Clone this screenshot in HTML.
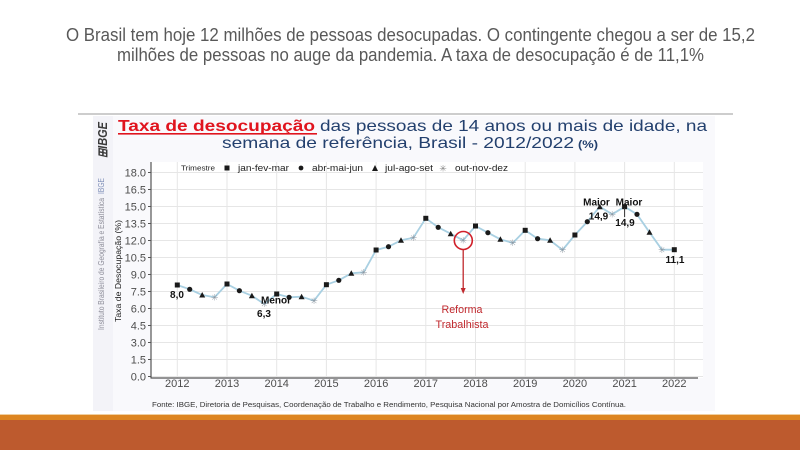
<!DOCTYPE html>
<html>
<head>
<meta charset="utf-8">
<style>
  html,body{margin:0;padding:0;background:#fff;}
  svg{display:block;}
  text{font-family:"Liberation Sans",sans-serif;}
</style>
</head>
<body>
<svg width="800" height="450" viewBox="0 0 800 450" xmlns="http://www.w3.org/2000/svg">
  <rect x="0" y="0" width="800" height="450" fill="#ffffff"/>

  <!-- Slide title -->
  <text x="66" y="41" font-size="18" fill="#595959" textLength="689" lengthAdjust="spacingAndGlyphs">O Brasil tem hoje 12 milhões de pessoas desocupadas. O contingente chegou a ser de 15,2</text>
  <text x="117" y="61" font-size="18" fill="#595959" textLength="587" lengthAdjust="spacingAndGlyphs">milhões de pessoas no auge da pandemia. A taxa de desocupação é de 11,1%</text>

  <!-- top gray line -->
  <rect x="78" y="113" width="655" height="2" fill="#cdcdcd"/>

  <!-- chart image background -->
  <rect x="93" y="116" width="622" height="295" fill="#f9f9fc"/>
  <rect x="93" y="116" width="20" height="295" fill="#f3f3f8"/>

  <!-- IBGE logo -->
  <g transform="translate(107,158) rotate(-90)">
    <text x="0" y="0" font-size="13" font-weight="bold" font-style="italic" fill="#3a3a3a" textLength="36" lengthAdjust="spacingAndGlyphs">⊞IBGE</text>
  </g>

  <!-- sidebar vertical text -->
  <g transform="translate(104,330) rotate(-90)">
    <text x="0" y="0" font-size="8" fill="#8c8c98" textLength="132" lengthAdjust="spacingAndGlyphs">Instituto Brasileiro de Geografia e Estatística</text>
    <text x="136" y="0" font-size="8" fill="#7f8fb8" textLength="16" lengthAdjust="spacingAndGlyphs">IBGE</text>
  </g>

  <!-- Chart title -->
  <text x="118" y="131" font-size="16" font-weight="bold" fill="#e0141e" textLength="197" lengthAdjust="spacingAndGlyphs">Taxa de desocupação</text>
  <rect x="118" y="133" width="199" height="1.6" fill="#e0141e"/>
  <text x="320" y="131" font-size="16" fill="#23406e" textLength="387" lengthAdjust="spacingAndGlyphs">das pessoas de 14 anos ou mais de idade, na</text>
  <text x="222" y="148" font-size="16" fill="#23406e" textLength="352" lengthAdjust="spacingAndGlyphs">semana de referência, Brasil - 2012/2022</text>
  <text x="578" y="148" font-size="11" font-weight="bold" fill="#23406e" textLength="20" lengthAdjust="spacingAndGlyphs">(%)</text>

  <!-- plot panel -->
  <rect x="151" y="162" width="552" height="216" fill="#ffffff"/>

  <!-- horizontal gridlines -->
  <g stroke="#e6e6e6" stroke-width="1">
    <line x1="151" y1="376.5" x2="703" y2="376.5"/>
    <line x1="151" y1="359.5" x2="703" y2="359.5"/>
    <line x1="151" y1="342.5" x2="703" y2="342.5"/>
    <line x1="151" y1="325.5" x2="703" y2="325.5"/>
    <line x1="151" y1="308.5" x2="703" y2="308.5"/>
    <line x1="151" y1="291.5" x2="703" y2="291.5"/>
    <line x1="151" y1="274.5" x2="703" y2="274.5"/>
    <line x1="151" y1="257.5" x2="703" y2="257.5"/>
    <line x1="151" y1="240.5" x2="703" y2="240.5"/>
    <line x1="151" y1="223.5" x2="703" y2="223.5"/>
    <line x1="151" y1="206.5" x2="703" y2="206.5"/>
    <line x1="151" y1="189.5" x2="703" y2="189.5"/>
    <line x1="151" y1="172.5" x2="703" y2="172.5"/>
  </g>
  <!-- vertical gridlines -->
  <g stroke="#e6e6e6" stroke-width="1">
    <line x1="177.3" y1="162" x2="177.3" y2="378"/>
    <line x1="227" y1="162" x2="227" y2="378"/>
    <line x1="276.7" y1="162" x2="276.7" y2="378"/>
    <line x1="326.4" y1="162" x2="326.4" y2="378"/>
    <line x1="376.1" y1="162" x2="376.1" y2="378"/>
    <line x1="425.8" y1="162" x2="425.8" y2="378"/>
    <line x1="475.5" y1="162" x2="475.5" y2="378"/>
    <line x1="525.2" y1="162" x2="525.2" y2="378"/>
    <line x1="574.9" y1="162" x2="574.9" y2="378"/>
    <line x1="624.6" y1="162" x2="624.6" y2="378"/>
    <line x1="674.3" y1="162" x2="674.3" y2="378"/>
  </g>

  <!-- axes -->
  <line x1="151" y1="162" x2="151" y2="378.5" stroke="#555" stroke-width="1.2"/>
  <line x1="151" y1="378" x2="698" y2="378" stroke="#555" stroke-width="1.2"/>
  <g stroke="#555" stroke-width="1">
    <line x1="148" y1="376.5" x2="151" y2="376.5"/>
    <line x1="148" y1="359.5" x2="151" y2="359.5"/>
    <line x1="148" y1="342.5" x2="151" y2="342.5"/>
    <line x1="148" y1="325.5" x2="151" y2="325.5"/>
    <line x1="148" y1="308.5" x2="151" y2="308.5"/>
    <line x1="148" y1="291.5" x2="151" y2="291.5"/>
    <line x1="148" y1="274.5" x2="151" y2="274.5"/>
    <line x1="148" y1="257.5" x2="151" y2="257.5"/>
    <line x1="148" y1="240.5" x2="151" y2="240.5"/>
    <line x1="148" y1="223.5" x2="151" y2="223.5"/>
    <line x1="148" y1="206.5" x2="151" y2="206.5"/>
    <line x1="148" y1="189.5" x2="151" y2="189.5"/>
    <line x1="148" y1="172.5" x2="151" y2="172.5"/>
  </g>

  <!-- y tick labels -->
  <g font-size="11" fill="#4d4d4d" text-anchor="end">
    <text x="146" y="380.5">0.0</text>
    <text x="146" y="363.5">1.5</text>
    <text x="146" y="346.5">3.0</text>
    <text x="146" y="329.5">4.5</text>
    <text x="146" y="312.5">6.0</text>
    <text x="146" y="295.5">7.5</text>
    <text x="146" y="278.5">9.0</text>
    <text x="146" y="261.5">10.5</text>
    <text x="146" y="244.5">12.0</text>
    <text x="146" y="227.5">13.5</text>
    <text x="146" y="210.5">15.0</text>
    <text x="146" y="193.5">16.5</text>
    <text x="146" y="176.5">18.0</text>
  </g>

  <!-- x tick labels -->
  <g font-size="11" fill="#4d4d4d" text-anchor="middle">
    <text x="177.3" y="387">2012</text>
    <text x="227" y="387">2013</text>
    <text x="276.7" y="387">2014</text>
    <text x="326.4" y="387">2015</text>
    <text x="376.1" y="387">2016</text>
    <text x="425.8" y="387">2017</text>
    <text x="475.5" y="387">2018</text>
    <text x="525.2" y="387">2019</text>
    <text x="574.9" y="387">2020</text>
    <text x="624.6" y="387">2021</text>
    <text x="674.3" y="387">2022</text>
  </g>

  <!-- y axis title -->
  <g transform="translate(121,322) rotate(-90)">
    <text x="0" y="0" font-size="8.5" fill="#222" textLength="102" lengthAdjust="spacingAndGlyphs">Taxa de Desocupação (%)</text>
  </g>

  <!-- legend -->
  <text x="181" y="170.5" font-size="7" fill="#222" textLength="34" lengthAdjust="spacingAndGlyphs">Trimestre</text>
  <rect x="224.5" y="165.5" width="5" height="5" fill="#1a1a1a"/>
  <text x="238" y="171" font-size="9.5" fill="#222" textLength="51" lengthAdjust="spacingAndGlyphs">jan-fev-mar</text>
  <circle cx="301" cy="168" r="2.4" fill="#1a1a1a"/>
  <text x="312" y="171" font-size="9.5" fill="#222" textLength="51" lengthAdjust="spacingAndGlyphs">abr-mai-jun</text>
  <polygon points="375,165 378,171 372,171" fill="#1a1a1a"/>
  <text x="385" y="171" font-size="9.5" fill="#222" textLength="48" lengthAdjust="spacingAndGlyphs">jul-ago-set</text>
  <text x="443" y="171.5" font-size="9" fill="#888" text-anchor="middle">✳</text>
  <text x="455" y="171" font-size="9.5" fill="#222" textLength="53" lengthAdjust="spacingAndGlyphs">out-nov-dez</text>

  <!-- data line -->
  <polyline fill="none" stroke="#a9d0e2" stroke-width="1.8" stroke-linejoin="round"
    points="177.3,285 189.7,289.3 202.2,295 214.6,297.3 227,284 239.4,290.7 251.9,295.7 264.3,304 276.7,294 289.1,297.3 301.6,296.7 314,300.7 326.4,284.7 338.8,280.3 351.3,273.3 363.7,272.3 376.1,250 388.5,246.7 401,240.3 413.4,237.7 425.8,218.3 438.2,227.3 450.7,233.7 463.1,240.3 475.5,226 487.9,232.7 500.4,239.3 512.8,243 525.2,230.3 537.6,238.7 550.1,240.3 562.5,250 574.9,235 587.3,221.7 599.8,206.7 612.2,214.3 624.6,206.7 637,214.3 649.5,232.3 661.9,249.7 674.3,249.7"/>

  <!-- Q1 squares -->
  <g fill="#1a1a1a">
    <rect x="174.8" y="282.5" width="5" height="5"/>
    <rect x="224.5" y="281.5" width="5" height="5"/>
    <rect x="274.2" y="291.5" width="5" height="5"/>
    <rect x="323.9" y="282.2" width="5" height="5"/>
    <rect x="373.6" y="247.5" width="5" height="5"/>
    <rect x="423.3" y="215.8" width="5" height="5"/>
    <rect x="473" y="223.5" width="5" height="5"/>
    <rect x="522.7" y="227.8" width="5" height="5"/>
    <rect x="572.4" y="232.5" width="5" height="5"/>
    <rect x="622.1" y="204.2" width="5" height="5"/>
    <rect x="671.8" y="247.2" width="5" height="5"/>
  </g>
  <!-- Q2 circles -->
  <g fill="#1a1a1a">
    <circle cx="189.7" cy="289.3" r="2.6"/>
    <circle cx="239.4" cy="290.7" r="2.6"/>
    <circle cx="289.1" cy="297.3" r="2.6"/>
    <circle cx="338.8" cy="280.3" r="2.6"/>
    <circle cx="388.5" cy="246.7" r="2.6"/>
    <circle cx="438.2" cy="227.3" r="2.6"/>
    <circle cx="487.9" cy="232.7" r="2.6"/>
    <circle cx="537.6" cy="238.7" r="2.6"/>
    <circle cx="587.3" cy="221.7" r="2.6"/>
    <circle cx="637" cy="214.3" r="2.6"/>
  </g>
  <!-- Q3 triangles -->
  <g fill="#1a1a1a">
    <polygon points="202.2,292 205.2,297.5 199.2,297.5"/>
    <polygon points="251.9,292.7 254.9,298.2 248.9,298.2"/>
    <polygon points="301.6,293.7 304.6,299.2 298.6,299.2"/>
    <polygon points="351.3,270.3 354.3,275.8 348.3,275.8"/>
    <polygon points="401,237.3 404,242.8 398,242.8"/>
    <polygon points="450.7,230.7 453.7,236.2 447.7,236.2"/>
    <polygon points="500.4,236.3 503.4,241.8 497.4,241.8"/>
    <polygon points="550.1,237.3 553.1,242.8 547.1,242.8"/>
    <polygon points="599.8,203.7 602.8,209.2 596.8,209.2"/>
    <polygon points="649.5,229.3 652.5,234.8 646.5,234.8"/>
  </g>
  <!-- Q4 asterisks -->
  <g fill="#8c96a0" font-size="9" text-anchor="middle">
    <text x="214.6" y="300.5">✳</text>
    <text x="264.3" y="307.2">✳</text>
    <text x="314" y="303.9">✳</text>
    <text x="363.7" y="275.5">✳</text>
    <text x="413.4" y="240.9">✳</text>
    <text x="463.1" y="243.5">✳</text>
    <text x="512.8" y="246.2">✳</text>
    <text x="562.5" y="253.2">✳</text>
    <text x="612.2" y="217.5">✳</text>
    <text x="661.9" y="252.9">✳</text>
  </g>

  <!-- annotations -->
  <g font-size="10" font-weight="bold" fill="#111" text-anchor="middle">
    <text x="177" y="298">8,0</text>
    <text x="276" y="303.5">Menor</text>
    <text x="264" y="317">6,3</text>
    <text x="596.5" y="205.5">Maior</text>
    <text x="629" y="205.5">Maior</text>
    <text x="598.5" y="219.5">14,9</text>
    <text x="625" y="226">14,9</text>
    <text x="675" y="263">11,1</text>
  </g>
  <line x1="624.6" y1="208" x2="624.6" y2="217" stroke="#333" stroke-width="1"/>

  <!-- Reforma Trabalhista -->
  <circle cx="463.3" cy="240.5" r="9" fill="none" stroke="#d0202a" stroke-width="1.6"/>
  <line x1="463.2" y1="250" x2="463.2" y2="289" stroke="#c0282d" stroke-width="1.3"/>
  <polygon points="460.7,288 465.7,288 463.2,294" fill="#c0282d"/>
  <text x="462" y="313" font-size="11" fill="#c0282d" text-anchor="middle" textLength="41" lengthAdjust="spacingAndGlyphs">Reforma</text>
  <text x="462" y="328" font-size="11" fill="#c0282d" text-anchor="middle" textLength="53" lengthAdjust="spacingAndGlyphs">Trabalhista</text>

  <!-- footer -->
  <text x="152" y="407" font-size="7" fill="#333" textLength="474" lengthAdjust="spacingAndGlyphs">Fonte: IBGE, Diretoria de Pesquisas, Coordenação de Trabalho e Rendimento, Pesquisa Nacional por Amostra de Domicílios Contínua.</text>

  <!-- bottom bars -->
  <rect x="0" y="414" width="800" height="1" fill="#f0cfa0"/>
  <rect x="0" y="415" width="800" height="5" fill="#dd8521"/>
  <rect x="0" y="420" width="800" height="30" fill="#bd5a2e"/>
</svg>
</body>
</html>
